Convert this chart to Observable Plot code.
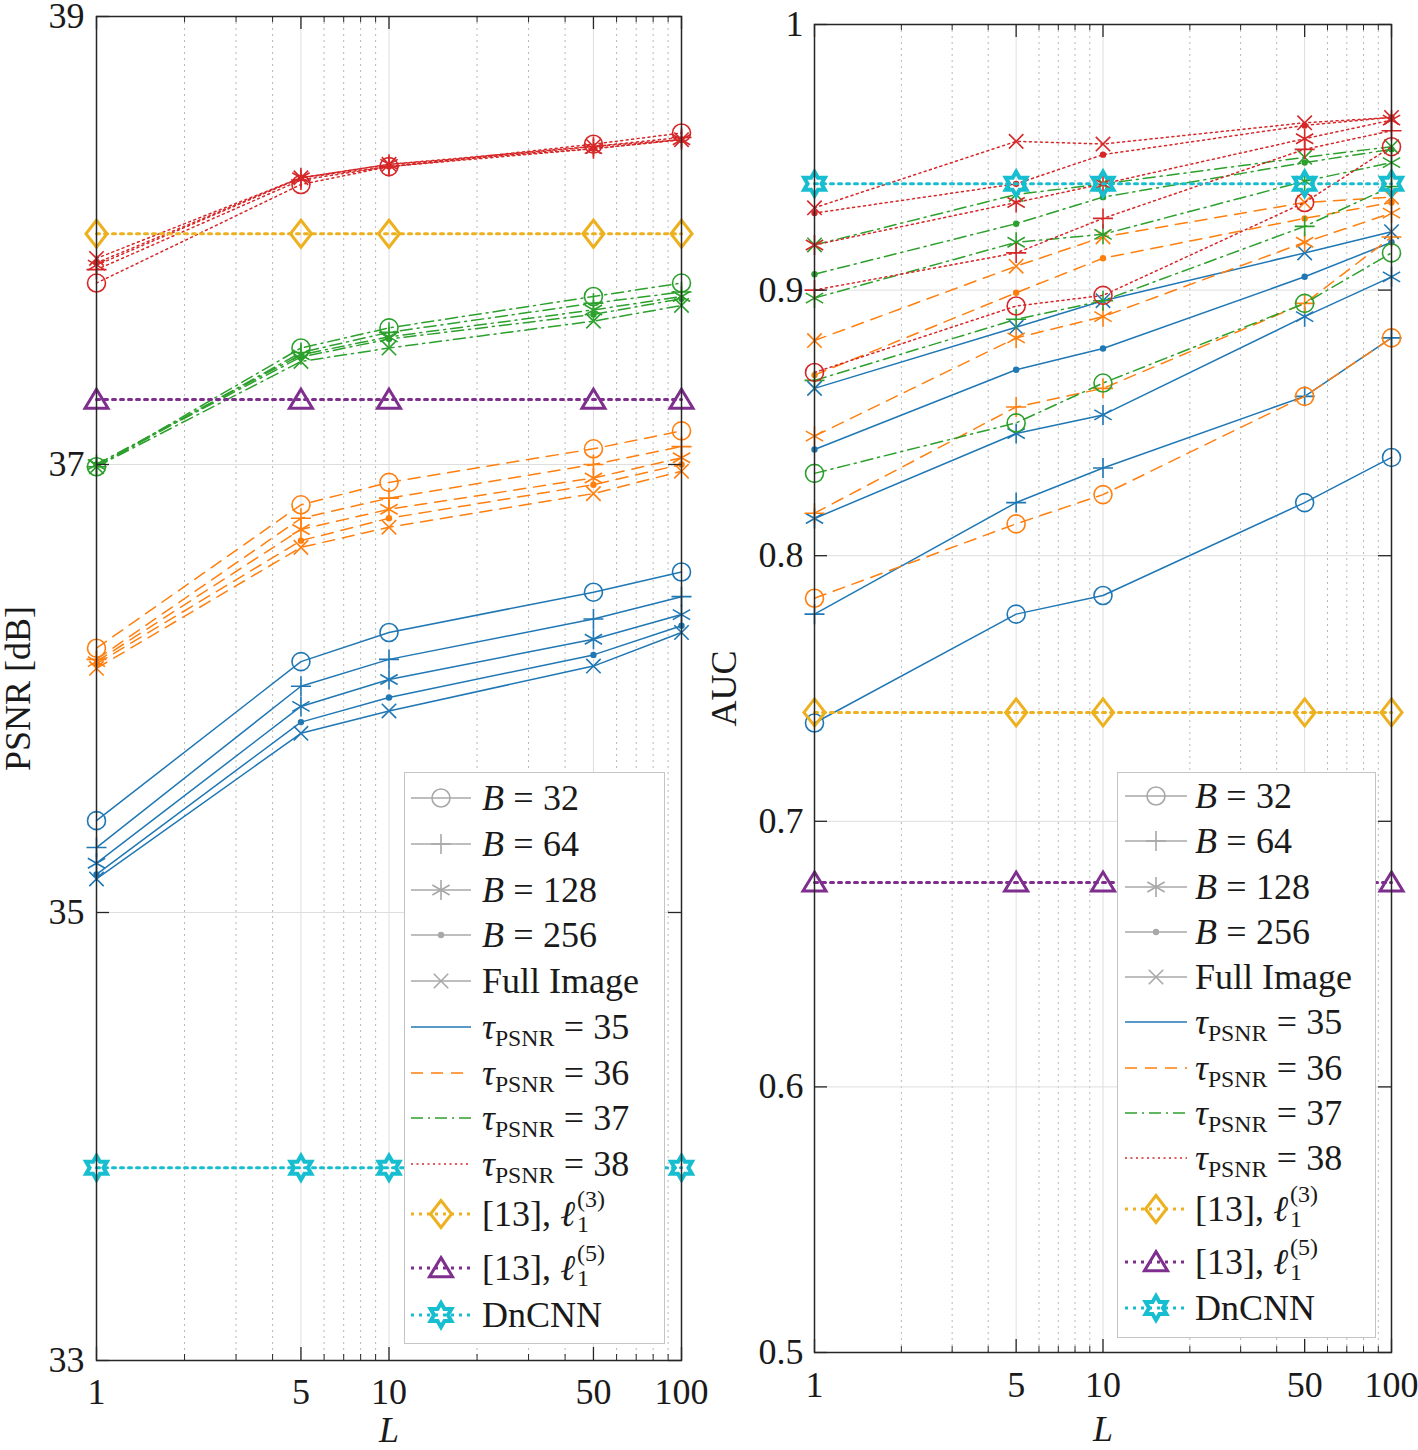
<!DOCTYPE html>
<html>
<head>
<meta charset="utf-8">
<script src="https://cdn.jsdelivr.net/npm/d3@7"></script>
<script src="https://cdn.jsdelivr.net/npm/@observablehq/plot@0.6"></script>
<style>
  body { margin: 0; background: #fff; }
  #wrap { position: relative; width: 1418px; height: 1450px; font-family: "Liberation Serif", "DejaVu Serif", serif; color: #1a1a1a; }
  .panel { position: absolute; top: 0; width: 709px; height: 1450px; }
  .legend { position: absolute; background: #fff; border: 1.5px solid #c4c4c4; box-sizing: border-box; }
  .ltext { position: absolute; height: 40px; line-height: 40px; font-size: 36px; white-space: nowrap; }
  .eq { margin: 0 0.26em; }
  .sub { position: relative; top: 0.3em; font-size: 0.66em; }
  .ss { display: inline-block; position: relative; width: 30px; height: 24px; font-size: 24px; line-height: 24px; margin-left: 2px; }
  .ss span { position: absolute; left: 0; }
</style>
</head>
<body>
<div id="wrap">
  <div id="left" class="panel" style="left:0px"></div>
  <div id="right" class="panel" style="left:709px"></div>
</div>
<script>
// ---------------- data ----------------
const L = [1, 5, 10, 50, 100];
const blockLabels = ["B = 32", "B = 64", "B = 128", "B = 256", "Full Image"];
const tauLevels = [35, 36, 37, 38];
const baselineLabels = ["[13], l1(3)", "[13], l1(5)", "DnCNN"];

// PSNR [dB] — rows: B=32, B=64, B=128, B=256, Full Image ; columns: L = 1, 5, 10, 50, 100
const psnrTau35 = [
  [35.41, 36.12, 36.25, 36.43, 36.52],
  [35.29, 36.01, 36.13, 36.31, 36.41],
  [35.22, 35.92, 36.04, 36.22, 36.33],
  [35.17, 35.85, 35.96, 36.15, 36.28],
  [35.15, 35.80, 35.90, 36.10, 36.25]
];
const psnrTau36 = [
  [36.18, 36.82, 36.92, 37.07, 37.15],
  [36.13, 36.76, 36.85, 37.00, 37.08],
  [36.12, 36.71, 36.80, 36.94, 37.03],
  [36.11, 36.66, 36.76, 36.91, 37.00],
  [36.09, 36.63, 36.72, 36.87, 36.97]
];
const psnrTau37 = [
  [36.99, 37.52, 37.61, 37.75, 37.81],
  [36.99, 37.50, 37.59, 37.72, 37.77],
  [37.00, 37.49, 37.57, 37.69, 37.75],
  [37.00, 37.48, 37.56, 37.67, 37.74],
  [36.99, 37.46, 37.52, 37.64, 37.71]
];
const psnrTau38 = [
  [37.81, 38.25, 38.33, 38.43, 38.48],
  [37.87, 38.27, 38.33, 38.42, 38.46],
  [37.89, 38.28, 38.34, 38.41, 38.45],
  [37.90, 38.28, 38.33, 38.41, 38.45],
  [37.92, 38.28, 38.34, 38.42, 38.45]
];
const psnrBaselines = [38.03, 37.29, 33.86]; // [13] l1(3), [13] l1(5), DnCNN

// AUC
const aucTau35 = [
  [0.737, 0.778, 0.785, 0.820, 0.837],
  [0.778, 0.820, 0.833, 0.860, 0.882],
  [0.814, 0.846, 0.853, 0.890, 0.905],
  [0.840, 0.870, 0.878, 0.905, 0.918],
  [0.863, 0.886, 0.896, 0.914, 0.922]
];
const aucTau36 = [
  [0.784, 0.812, 0.823, 0.860, 0.882],
  [0.816, 0.856, 0.863, 0.895, 0.920],
  [0.845, 0.882, 0.890, 0.918, 0.929],
  [0.868, 0.899, 0.912, 0.927, 0.933],
  [0.881, 0.909, 0.920, 0.933, 0.935]
];
const aucTau37 = [
  [0.831, 0.850, 0.865, 0.895, 0.914],
  [0.866, 0.889, 0.896, 0.924, 0.939],
  [0.897, 0.918, 0.921, 0.941, 0.948],
  [0.906, 0.925, 0.935, 0.948, 0.953],
  [0.917, 0.936, 0.940, 0.950, 0.954]
];
const aucTau38 = [
  [0.869, 0.894, 0.898, 0.933, 0.954],
  [0.900, 0.914, 0.927, 0.953, 0.960],
  [0.917, 0.933, 0.940, 0.957, 0.964],
  [0.929, 0.940, 0.951, 0.962, 0.965],
  [0.931, 0.956, 0.955, 0.963, 0.965]
];
const aucBaselines = [0.741, 0.677, 0.940];

const xTicks = [1, 5, 10, 50, 100];
const xMinorTicks = [2, 3, 4, 6, 7, 8, 9, 20, 30, 40, 60, 70, 80, 90];
const psnrTicks = [33, 35, 37, 39];
const aucTicks = [0.5, 0.6, 0.7, 0.8, 0.9, 1];

// ---------------- styles ----------------
const tauColors = ["#1f77b4", "#ff7f0e", "#2ca02c", "#d62728"];
const tauDash = [undefined, "12,8", "12,5,2,5", "2,3.5"];
const baseColors = ["#edb120", "#7e2f8e", "#17becf"];
const blockGray = "#a8a8a8";
const axisColor = "#262626";

const rad = size => Math.sqrt(size / Math.PI);
const symCircle = { draw(c, size) { const r = rad(size); c.moveTo(r, 0); c.arc(0, 0, r, 0, 2 * Math.PI); c.closePath(); } };
const symPlus = { draw(c, size) { const r = rad(size); c.moveTo(-r, 0); c.lineTo(r, 0); c.moveTo(0, -r); c.lineTo(0, r); } };
const symAster = { draw(c, size) { const r = rad(size); for (let k = 0; k < 3; k++) { const a = Math.PI / 2 + k * Math.PI / 3; c.moveTo(r * Math.cos(a), r * Math.sin(a)); c.lineTo(-r * Math.cos(a), -r * Math.sin(a)); } } };
const symTimes = { draw(c, size) { const r = rad(size) * 0.72; c.moveTo(-r, -r); c.lineTo(r, r); c.moveTo(-r, r); c.lineTo(r, -r); } };
const symDot = { draw(c, size) { const r = rad(size); c.moveTo(r, 0); c.arc(0, 0, r, 0, 2 * Math.PI); c.closePath(); } };
const symDiamond = { draw(c, size) { const r = rad(size); const w = r * 0.78; c.moveTo(0, -r); c.lineTo(w, 0); c.lineTo(0, r); c.lineTo(-w, 0); c.closePath(); } };
const symTriangle = { draw(c, size) { const r = rad(size); c.moveTo(0, -r * 0.9); c.lineTo(r, r * 0.75); c.lineTo(-r, r * 0.75); c.closePath(); } };
const symHexagram = { draw(c, size) { const R = rad(size); const ri = R / Math.sqrt(3);
  for (let k = 0; k < 12; k++) { const a = -Math.PI / 2 + k * Math.PI / 6; const rr = k % 2 === 0 ? R : ri;
    const x = rr * Math.cos(a), y = rr * Math.sin(a); if (k === 0) c.moveTo(x, y); else c.lineTo(x, y); }
  c.closePath(); } };

const blockSymbols = [symCircle, symPlus, symAster, symDot, symTimes];
const blockR = [9, 10, 10, 3.2, 10];
const baseSymbols = [symDiamond, symTriangle, symHexagram];
const baseR = [13.5, 11.5, 12];
const baseSW = [3, 3, 4];

function blockMarker(b, color) {
  if (b === 3) return { symbol: symDot, r: blockR[b], fill: color, stroke: "none" };
  return { symbol: blockSymbols[b], r: blockR[b], fill: "none", stroke: color, strokeWidth: 1.6 };
}

// ---------------- panels ----------------
function drawPanel(cfg) {
  const { series, baselines, domain, ticks, tickFmt, label, width, height, ml, mr, mt, mb, labelDx, lDy, xPad, yPad } = cfg;
  const innerW = width - ml - mr, innerH = height - mt - mb;
  const [y0, y1] = domain;
  const ty = px => (y1 - y0) * px / innerH;
  const tx = px => Math.pow(100, px / innerW);
  const marks = [
    Plot.gridX(xMinorTicks, { stroke: "#a0a0a0", strokeOpacity: 0.75, strokeDasharray: "2,4" }),
    Plot.gridX(xTicks, { stroke: "#dedede", strokeOpacity: 1 }),
    Plot.gridY(ticks, { stroke: "#dedede", strokeOpacity: 1 })
  ];
  series.forEach((tauSeries, t) => {
    tauSeries.forEach((vals, b) => {
      const rows = L.map((l, i) => ({ L: l, value: vals[i] }));
      marks.push(Plot.line(rows, { x: "L", y: "value", stroke: tauColors[t], strokeWidth: 1.5, strokeDasharray: tauDash[t] }));
      marks.push(Plot.dot(rows, { x: "L", y: "value", ...blockMarker(b, tauColors[t]) }));
    });
  });
  baselines.forEach((v, k) => {
    const rows = L.map(l => ({ L: l, value: v }));
    marks.push(Plot.line(rows, { x: "L", y: "value", stroke: baseColors[k], strokeWidth: 3, strokeDasharray: "3,5" }));
    marks.push(Plot.dot(rows, { x: "L", y: "value", symbol: baseSymbols[k], r: baseR[k], stroke: baseColors[k], strokeWidth: baseSW[k], fill: "none", strokeLinejoin: "miter" }));
  });
  marks.push(
    Plot.frame({ stroke: axisColor, strokeWidth: 1.5 }),
    // inward ticks on all four sides
    Plot.ruleX(xTicks, { x: d => d, y1: y0, y2: y0 + ty(13), stroke: axisColor, strokeWidth: 1.3 }),
    Plot.ruleX(xTicks, { x: d => d, y1: y1 - ty(13), y2: y1, stroke: axisColor, strokeWidth: 1.3 }),
    Plot.ruleX(xMinorTicks, { x: d => d, y1: y0, y2: y0 + ty(6), stroke: axisColor, strokeWidth: 1 }),
    Plot.ruleX(xMinorTicks, { x: d => d, y1: y1 - ty(6), y2: y1, stroke: axisColor, strokeWidth: 1 }),
    Plot.ruleY(ticks, { y: d => d, x1: 1, x2: tx(13), stroke: axisColor, strokeWidth: 1.3 }),
    Plot.ruleY(ticks, { y: d => d, x1: 100 / tx(13), x2: 100, stroke: axisColor, strokeWidth: 1.3 }),
    // x tick labels
    Plot.text(xTicks, { x: d => d, text: d => String(d), frameAnchor: "bottom", lineAnchor: "top", textAnchor: "middle", dy: xPad, fontSize: 36, fill: "#1a1a1a" }),
    Plot.axisY(ticks, { tickSize: 0, tickPadding: yPad, tickFormat: tickFmt, fontSize: 36, fill: "#1a1a1a" }),
    Plot.text([label], { text: d => d, frameAnchor: "left", textAnchor: "middle", lineAnchor: "middle", dx: labelDx, rotate: -90, fontSize: 36, fill: "#1a1a1a" }),
    Plot.text(["L"], { text: d => d, frameAnchor: "bottom", textAnchor: "middle", lineAnchor: "middle", dy: lDy, fontSize: 36, fontStyle: "italic", fill: "#1a1a1a" })
  );
  return Plot.plot({
    width, height,
    marginLeft: ml, marginRight: mr, marginTop: mt, marginBottom: mb,
    x: { type: "log", domain: [1, 100], label: null, axis: null },
    y: { domain, label: null },
    style: { fontFamily: "'Liberation Serif', 'DejaVu Serif', serif", fontSize: "36px", background: "transparent", overflow: "visible" },
    marks
  });
}

document.getElementById("left").appendChild(drawPanel({
  series: [psnrTau35, psnrTau36, psnrTau37, psnrTau38], baselines: psnrBaselines,
  domain: [33, 39], ticks: psnrTicks, tickFmt: d => String(d), label: "PSNR [dB]",
  width: 709, height: 1450, ml: 96, mr: 28, mt: 16, mb: 90, labelDx: -78, lDy: 70, xPad: 18, yPad: 12
}));
document.getElementById("right").appendChild(drawPanel({
  series: [aucTau35, aucTau36, aucTau37, aucTau38], baselines: aucBaselines,
  domain: [0.5, 1], ticks: aucTicks, tickFmt: d => String(d), label: "AUC",
  width: 709, height: 1450, ml: 105, mr: 27, mt: 24, mb: 98, labelDx: -90, lDy: 77, xPad: 19, yPad: 11
}));

// ---------------- legends ----------------
function entryHtml(k) {
  if (k < 4) { const p = blockLabels[k].split(" = "); return `<i>${p[0]}</i><span class="eq">=</span>${p[1]}`; }
  if (k === 4) return blockLabels[4];
  if (k < 9) return `<i>τ</i><span class="sub">PSNR</span><span class="eq">=</span>${tauLevels[k - 5]}`;
  if (k < 11) { const n = k === 9 ? 3 : 5; return `[13],&nbsp;<i>ℓ</i><span class="ss"><span style="top:-15px">(${n})</span><span style="top:10px">1</span></span>`; }
  return baselineLabels[2];
}

function makeLegend(box, centers, lx0, lx1, textX) {
  const div = d3.select("#wrap").append("div").attr("class", "legend")
    .style("left", box.x + "px").style("top", box.y + "px")
    .style("width", box.w + "px").style("height", box.h + "px");
  centers.forEach((cy, k) => {
    const top = cy - box.y - 20;
    const svg = div.append("svg").style("position", "absolute").style("left", "0px").style("top", top + "px")
      .attr("width", lx1 + 12).attr("height", 40);
    const mx = (lx0 + lx1) / 2;
    let color, dash, width, sym = null, r = 0, fill = "none", sw = 1.6;
    if (k < 5) { color = blockGray; dash = null; width = 1.5; sym = blockSymbols[k]; r = blockR[k]; if (k === 3) { fill = blockGray; sw = 0; } }
    else if (k < 9) { color = tauColors[k - 5]; dash = tauDash[k - 5] || null; width = 1.5; }
    else { color = baseColors[k - 9]; dash = "3,5"; width = 3; sym = baseSymbols[k - 9]; r = baseR[k - 9]; sw = baseSW[k - 9]; }
    svg.append("line").attr("x1", lx0).attr("x2", lx1).attr("y1", 20).attr("y2", 20)
      .attr("stroke", color).attr("stroke-width", width).attr("stroke-dasharray", dash);
    if (sym) {
      svg.append("path").attr("transform", `translate(${mx},20)`)
        .attr("d", d3.symbol(sym, Math.PI * r * r)())
        .attr("fill", fill).attr("stroke", sw ? color : "none").attr("stroke-width", sw);
    }
    div.append("div").attr("class", "ltext").style("left", (textX - box.x) + "px").style("top", top + "px").html(entryHtml(k));
  });
}

const leftCenters = [797, 842.7, 888.5, 934.2, 980, 1025.7, 1071.5, 1117.2, 1163, 1213, 1267, 1314];
const rightCenters = [795, 840.2, 885.5, 930.7, 976, 1021.2, 1066.5, 1111.7, 1157, 1208, 1261, 1307];
makeLegend({ x: 404, y: 772, w: 261, h: 572 }, leftCenters, 6, 66, 481);
makeLegend({ x: 1117, y: 772, w: 259, h: 566 }, rightCenters, 7, 69, 1194);
</script>
</body>
</html>
